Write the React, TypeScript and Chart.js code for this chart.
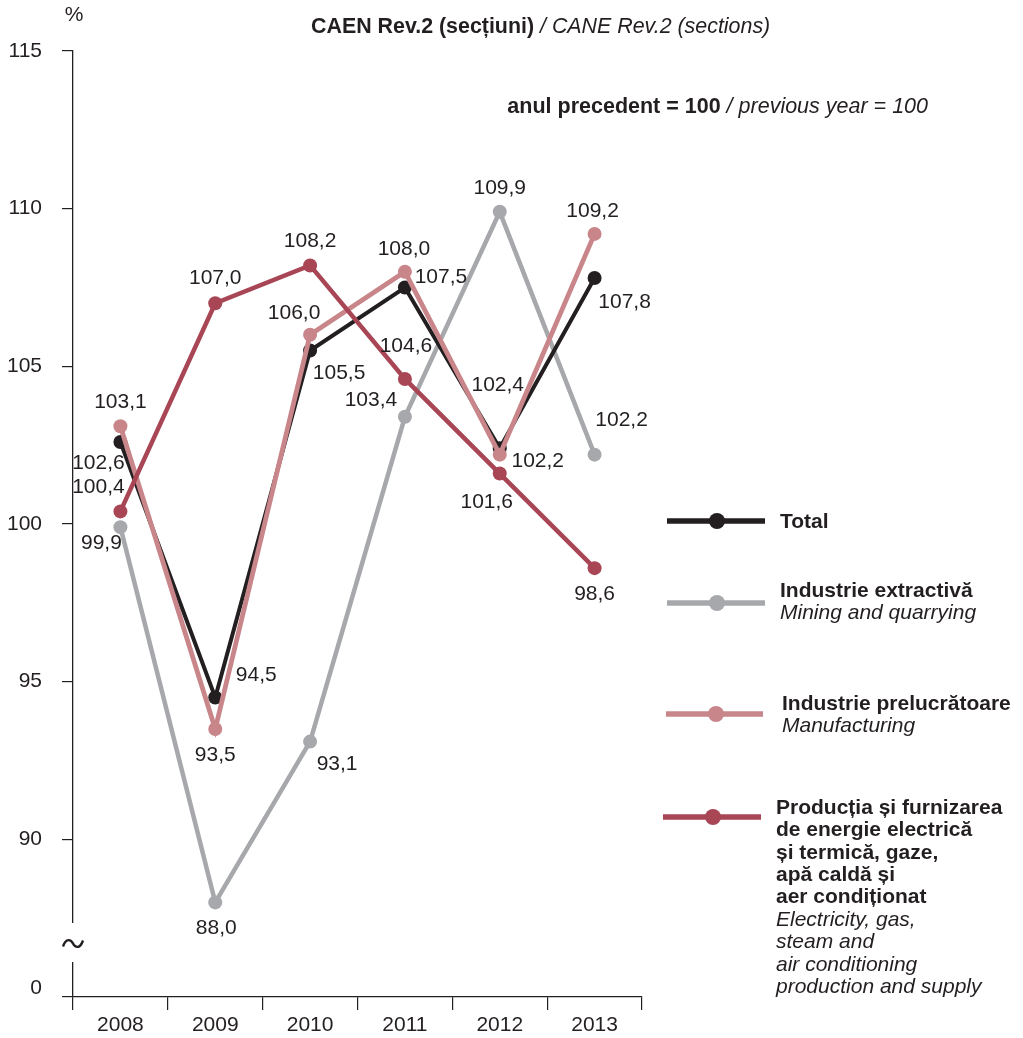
import React, { useEffect, useRef } from "react";
import { Chart, registerables } from "chart.js";

Chart.register(...registerables);

const years = ["2008", "2009", "2010", "2011", "2012", "2013"];
const total = [102.6, 94.5, 105.5, 107.5, 102.4, 107.8];
const mining = [99.9, 88.0, 93.1, 103.4, 109.9, 102.2];
const manufacturing = [103.1, 93.5, 106.0, 108.0, 102.2, 109.2];
const energy = [100.4, 107.0, 108.2, 104.6, 101.6, 98.6];
const yTickValues = [90, 95, 100, 105, 110, 115];
const axisBase = 85; // shown as "0" below the axis break

// label offsets (px) from each point
const totalOff = [[-22, 21], [41, -22], [29, 23], [36, -10], [-2, -63], [30, 24]];
const miningOff = [[-19, 16], [1, 26], [27, 23], [-34, -17], [0, -24], [27, -34]];
const manufOff = [[0, -24], [0, 26], [-16, -22], [-1, -23], [38, 7], [-2, -23]];
const energyOff = [[-22, -24], [0, -25], [0, -24], [1, -33], [-13, 29], [0, 26]];

const C_TOTAL = "#231f20";
const C_MINING = "#a6a8ab";
const C_MANUF = "#c9868a";
const C_ENERGY = "#a84656";
const TXT = "#231f20";
const FONT = "'Liberation Sans', Arial, Helvetica, sans-serif";
const FS = 21;

const fmt = (v: number) => v.toFixed(1).replace(".", ",");

export default function App() {
  const ref = useRef<HTMLCanvasElement | null>(null);

  useEffect(() => {
    if (!ref.current) return;

    const labelsPlugin = {
      id: "dataLabels",
      afterDatasetsDraw(chart: any) {
        const ctx = chart.ctx;
        ctx.save();
        ctx.font = `${FS}px ${FONT}`;
        ctx.fillStyle = TXT;
        ctx.textAlign = "center";
        ctx.textBaseline = "middle";
        chart.data.datasets.forEach((ds: any, di: number) => {
          const meta = chart.getDatasetMeta(di);
          const offs = ds.labelOffsets as number[][];
          meta.data.forEach((pt: any, i: number) => {
            const v = ds.data[i] as number;
            ctx.fillText(fmt(v), pt.x + offs[i][0], pt.y + offs[i][1]);
          });
        });
        ctx.restore();
      },
    };

    const decoPlugin = {
      id: "deco",
      afterDraw(chart: any) {
        const ctx = chart.ctx;
        const area = chart.chartArea;
        ctx.save();
        // axis break
        const yTop = area.bottom - 74;
        const yBot = area.bottom - 35;
        ctx.fillStyle = "#ffffff";
        ctx.fillRect(area.left - 4, yTop, 8, yBot - yTop);
        const cy = (yTop + yBot) / 2 + 1;
        ctx.strokeStyle = TXT;
        ctx.lineWidth = 2.4;
        ctx.beginPath();
        ctx.moveTo(area.left - 10, cy + 3);
        ctx.bezierCurveTo(area.left - 7, cy - 6, area.left - 2, cy - 4, area.left, cy);
        ctx.bezierCurveTo(area.left + 2, cy + 4, area.left + 7, cy + 6, area.left + 10, cy - 3);
        ctx.stroke();

        // "0" label
        ctx.fillStyle = TXT;
        ctx.font = `${FS}px ${FONT}`;
        ctx.textAlign = "right";
        ctx.textBaseline = "middle";
        ctx.fillText("0", 42, area.bottom - 9);

        // "%"
        ctx.textAlign = "center";
        ctx.fillText("%", 74, 15);

        const drawMixed = (parts: [string, string][], x: number, y: number, align: "left" | "right") => {
          const widths = parts.map(([t, f]) => {
            ctx.font = f;
            return ctx.measureText(t).width;
          });
          const totalW = widths.reduce((a, b) => a + b, 0);
          let cx = align === "left" ? x : x - totalW;
          ctx.textAlign = "left";
          parts.forEach(([t, f], i) => {
            ctx.font = f;
            ctx.fillText(t, cx, y);
            cx += widths[i];
          });
        };
        drawMixed(
          [
            ["CAEN Rev.2 (secțiuni)", `bold 21.4px ${FONT}`],
            [" / CANE Rev.2 (sections)", `italic 21.4px ${FONT}`],
          ],
          311,
          27,
          "left"
        );
        drawMixed(
          [
            ["anul precedent = 100", `bold 21.5px ${FONT}`],
            [" / previous year = 100", `italic 21.5px ${FONT}`],
          ],
          928,
          107,
          "right"
        );

        // legend
        const legendItem = (color: string, x1: number, x2: number, mx: number, ly: number) => {
          ctx.strokeStyle = color;
          ctx.lineWidth = 5.5;
          ctx.beginPath();
          ctx.moveTo(x1, ly);
          ctx.lineTo(x2, ly);
          ctx.stroke();
          ctx.fillStyle = color;
          ctx.beginPath();
          ctx.arc(mx, ly, 8, 0, Math.PI * 2);
          ctx.fill();
        };
        const textLines = (lines: [string, boolean][], x: number, y0: number, lh: number) => {
          ctx.fillStyle = TXT;
          ctx.textAlign = "left";
          ctx.textBaseline = "middle";
          lines.forEach(([t, bold], i) => {
            ctx.font = `${bold ? "bold " : "italic "}21px ${FONT}`;
            ctx.fillText(t, x, y0 + i * lh);
          });
        };
        legendItem(C_TOTAL, 667, 765, 717, 521);
        textLines([["Total", true]], 780, 522, 22.4);

        legendItem(C_MINING, 667, 765, 717, 603);
        textLines(
          [
            ["Industrie extractivă", true],
            ["Mining and quarrying", false],
          ],
          780,
          591,
          22.4
        );

        legendItem(C_MANUF, 666, 763, 716, 714);
        textLines(
          [
            ["Industrie prelucrătoare", true],
            ["Manufacturing", false],
          ],
          782,
          704,
          22.6
        );

        legendItem(C_ENERGY, 663, 761, 713, 817);
        textLines(
          [
            ["Producția și furnizarea", true],
            ["de energie electrică", true],
            ["și termică, gaze,", true],
            ["apă caldă și", true],
            ["aer condiționat", true],
            ["Electricity, gas,", false],
            ["steam and", false],
            ["air conditioning", false],
            ["production and supply", false],
          ],
          776,
          808,
          22.4
        );
        ctx.restore();
      },
    };

    const mk = (label: string, data: number[], color: string, width: number, offs: number[][]) => ({
      label,
      data,
      borderColor: color,
      backgroundColor: color,
      pointBackgroundColor: color,
      pointBorderColor: color,
      pointRadius: 7,
      pointBorderWidth: 0,
      borderWidth: width,
      tension: 0,
      labelOffsets: offs,
    });

    const chart = new Chart(ref.current, {
      type: "line",
      data: {
        labels: years,
        datasets: [
          mk("Producția și furnizarea de energie", energy, C_ENERGY, 4.5, energyOff),
          mk("Industrie prelucrătoare", manufacturing, C_MANUF, 4.8, manufOff),
          mk("Total", total, C_TOTAL, 4, totalOff),
          mk("Industrie extractivă", mining, C_MINING, 4.5, miningOff),
        ] as any,
      },
      options: {
        responsive: false,
        animation: false,
        devicePixelRatio: 1,
        layout: { padding: { top: 51, right: 381, left: 0, bottom: 0 } },
        plugins: {
          legend: { display: false },
          tooltip: { enabled: false },
          title: { display: false },
        },
        scales: {
          x: {
            type: "category",
            offset: true,
            grid: {
              display: true,
              drawOnChartArea: false,
              drawTicks: true,
              tickLength: 13,
              offset: true,
              color: TXT,
              lineWidth: 1.2,
            },
            border: { display: true, color: TXT, width: 1.3 },
            ticks: {
              color: TXT,
              font: { family: FONT, size: FS },
              padding: 3,
              maxRotation: 0,
              autoSkip: false,
            },
            afterFit: (s: any) => {
              s.height = 41;
            },
          },
          y: {
            type: "linear",
            min: axisBase,
            max: 115,
            afterBuildTicks: (s: any) => {
              s.ticks = [axisBase, ...yTickValues].map((v) => ({ value: v }));
            },
            grid: {
              display: true,
              drawOnChartArea: false,
              drawTicks: true,
              tickLength: 11,
              color: TXT,
              lineWidth: 1.2,
            },
            border: { display: true, color: TXT, width: 1.3 },
            ticks: {
              color: TXT,
              font: { family: FONT, size: FS },
              padding: 20,
              callback: (v: any) => (v === axisBase ? "" : String(v)),
            },
            afterFit: (s: any) => {
              s.width = 73;
            },
          },
        },
      } as any,
      plugins: [labelsPlugin, decoPlugin],
    });

    return () => chart.destroy();
  }, []);

  return (
    <div style={{ position: "absolute", left: 0, top: 0, width: 1023, height: 1038, background: "#fff" }}>
      <canvas ref={ref} width={1023} height={1038} style={{ display: "block" }} />
    </div>
  );
}
